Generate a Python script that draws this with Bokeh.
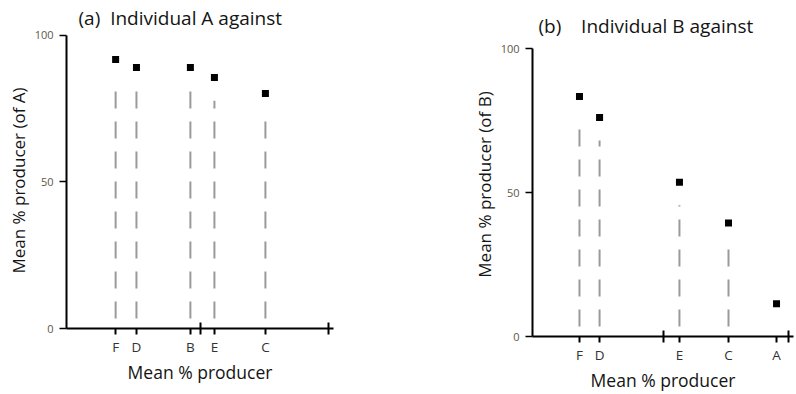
from bokeh.plotting import figure
from bokeh.layouts import row
from bokeh.models import Range1d, FixedTicker
from bokeh.embed import file_html
from bokeh.resources import INLINE

# (a) individual A against each of the others
a_names = ["F", "D", "B", "E", "C"]
a_x = [18.4, 26.2, 46.4, 55.4, 74.5]      # mean % producer of the opponent
a_y = [91.8, 89.1, 89.1, 85.7, 80.2]      # mean % producer of A

# (b) individual B against each of the others
b_names = ["F", "D", "E", "C", "A"]
b_x = [18.0, 25.7, 56.3, 75.1, 93.5]
b_y = [83.4, 76.1, 53.6, 39.4, 11.4]

axis_marks = [50.2, 98.1]                 # break mark and end mark on the x axis
y_ticks = [0, 50, 100]

FONT = "Open Sans"
INK = "#141414"


def panel(names, xs, ys, title, title_offset, title_standoff, ylabel,
          width, height, left, right, y_hi):
    p = figure(width=width, height=height, output_backend="svg", toolbar_location=None,
               x_range=Range1d(0, 100), y_range=Range1d(0, y_hi),
               min_border_left=left, min_border_right=right,
               min_border_top=32, min_border_bottom=57)
    p.outline_line_color = None
    p.grid.visible = False

    p.title.text = title
    p.title.text_font = FONT
    p.title.text_font_size = "19px"
    p.title.text_font_style = "normal"
    p.title.text_color = INK
    p.title.align = "left"
    p.title.offset = title_offset
    p.title.standoff = title_standoff

    # dashed drop lines from the axis up towards each point
    p.segment(x0=xs, y0=[0] * len(xs), x1=xs, y1=[v - 8 for v in ys],
              line_color="#9a9a9a", line_width=2,
              line_dash="17 13", line_dash_offset=20)
    p.scatter(xs, ys, marker="square", size=7, fill_color="black", line_color=None)

    xa = p.xaxis[0]
    xa.ticker = FixedTicker(ticks=xs, minor_ticks=axis_marks)
    xa.major_label_overrides = {x: n for x, n in zip(xs, names)}
    xa.axis_line_width = 2
    xa.axis_line_color = "black"
    xa.major_tick_in = 0
    xa.major_tick_out = 6
    xa.major_tick_line_width = 2
    xa.minor_tick_in = 6
    xa.minor_tick_out = 6
    xa.minor_tick_line_width = 2
    xa.minor_tick_line_color = "black"
    xa.major_label_text_font = FONT
    xa.major_label_text_font_size = "13.5px"
    xa.major_label_text_color = "#333333"
    xa.major_label_standoff = 3
    xa.axis_label = "Mean % producer"
    xa.axis_label_text_font = FONT
    xa.axis_label_text_font_size = "17.5px"
    xa.axis_label_text_font_style = "normal"
    xa.axis_label_text_color = INK
    xa.axis_label_standoff = 1

    ya = p.yaxis[0]
    ya.bounds = (0, 100)
    ya.ticker = FixedTicker(ticks=y_ticks)
    ya.axis_line_width = 2
    ya.axis_line_color = "black"
    ya.major_tick_in = 0
    ya.major_tick_out = 7
    ya.major_tick_line_width = 1.5
    ya.minor_tick_line_color = None
    ya.major_label_text_font = FONT
    ya.major_label_text_font_size = "11px"
    ya.major_label_text_color = "#5e5648"
    ya.major_label_standoff = 6
    ya.axis_label = ylabel
    ya.axis_label_text_font = FONT
    ya.axis_label_text_font_size = "17px"
    ya.axis_label_text_font_style = "normal"
    ya.axis_label_text_color = INK
    ya.axis_label_standoff = 2
    return p


pa = panel(a_names, a_x, a_y, "(a)\u00a0\u00a0Individual A against", 12, 4,
           "Mean % producer (of A)", 400, 386, 66, 67, 101.02)
pb = panel(b_names, b_x, b_y, "(b)\u00a0\u00a0\u00a0\u00a0Individual B against", 6, -12,
           "Mean % producer (of B)", 396, 394, 132, 3, 105.6)

layout = row(pa, pb)
open("out.html", "w").write(file_html(layout, INLINE))
